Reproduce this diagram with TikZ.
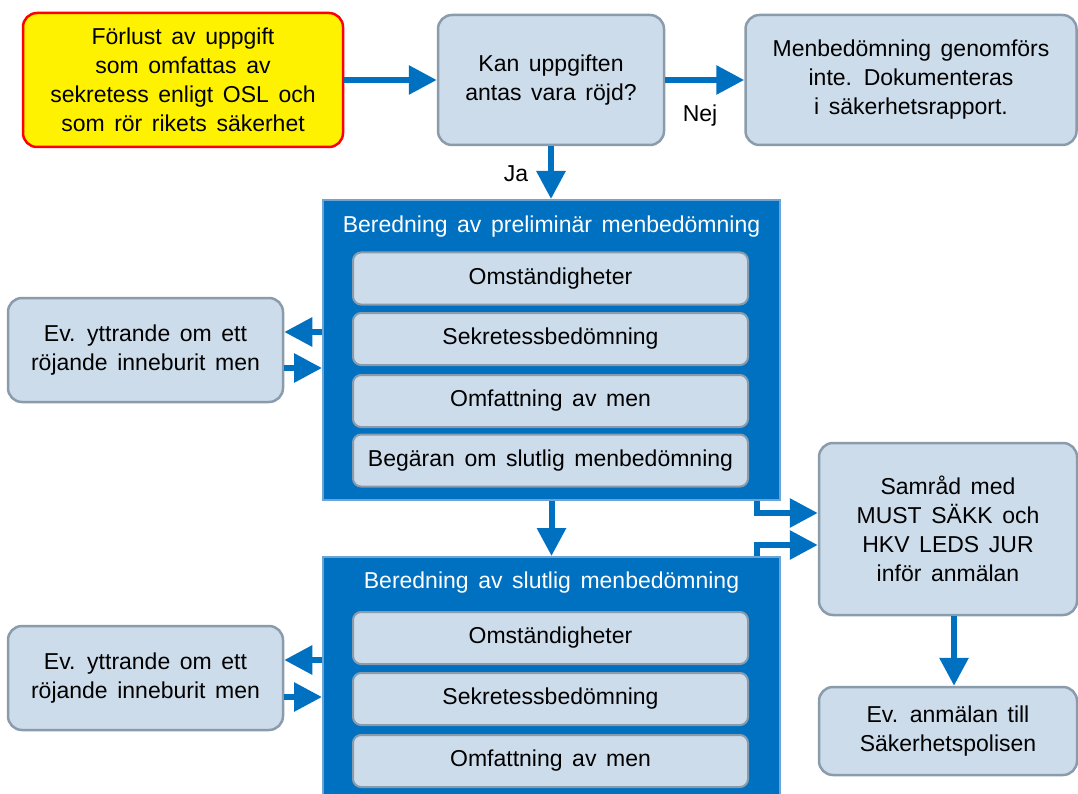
\documentclass[tikz,border=0pt]{standalone}
\usepackage{fontspec}
\setmainfont{Liberation Sans}[WordSpace=1.5]
\usetikzlibrary{arrows.meta,calc}
\definecolor{boxfill}{HTML}{CCDCEB}
\definecolor{boxline}{HTML}{8A9BAB}
\definecolor{flowblue}{HTML}{0070C0}
\definecolor{contline}{HTML}{6EA3D6}
\begin{document}
\begin{tikzpicture}[x=1pt,y=-1pt,
  txt/.style={font=\fontsize{23}{29}\selectfont, align=center, text=black},
  gbox/.style={txt, rounded corners=14pt, fill=boxfill, draw=boxline, line width=2.5pt, inner sep=0pt},
  ybox/.style={gbox, fill=yellow, draw=red},
  cont/.style={fill=flowblue, draw=contline, line width=2pt, inner sep=0pt, minimum width=457pt},
  ibox/.style={txt, rounded corners=8pt, fill=boxfill, draw=boxline, line width=2pt, minimum width=395pt, minimum height=52pt, inner sep=0pt},
  ctitle/.style={txt, text=white},
  arr/.style={draw=flowblue, line width=6pt, -{Triangle[length=28pt,width=28pt]}}]
\useasboundingbox (0,0) rectangle (1078,794);
\clip (0,0) rectangle (1078,794);

% top row
\node[ybox, minimum width=320pt, minimum height=134pt] (start) at (183,80) {Förlust av uppgift\\som omfattas av\\sekretess enligt OSL och\\som rör rikets säkerhet};
\node[gbox, minimum width=226pt, minimum height=130pt] (q) at (551,80) {Kan uppgiften\\antas vara röjd?};
\node[gbox, minimum width=331pt, minimum height=130pt] (no) at (911,80) {Menbedömning genomförs\\inte. Dokumenteras\\i säkerhetsrapport.};

% container 1
\node[cont, minimum height=300pt] (c1) at (551.5,350) {};
\node[ctitle] (t1) at (551.5,227) {Beredning av preliminär menbedömning};
\node[ibox] (c1a) at (550.5,278.5) {Omständigheter};
\node[ibox] (c1b) at (550.5,339) {Sekretessbedömning};
\node[ibox] (c1c) at (550.5,401) {Omfattning av men};
\node[ibox] (c1d) at (550.5,460.5) {Begäran om slutlig menbedömning};

% container 2
\node[cont, minimum height=260pt] (c2) at (551.5,687) {};
\node[ctitle] (t2) at (551.5,583) {Beredning av slutlig menbedömning};
\node[ibox] (c2a) at (550.5,638) {Omständigheter};
\node[ibox] (c2b) at (550.5,699) {Sekretessbedömning};
\node[ibox] (c2c) at (550.5,761) {Omfattning av men};

% left boxes
\node[gbox, minimum width=275pt, minimum height=104pt] (y1) at (145.5,350) {Ev. yttrande om ett\\röjande inneburit men};
\node[gbox, minimum width=275pt, minimum height=104pt] (y2) at (145.5,678) {Ev. yttrande om ett\\röjande inneburit men};

% right boxes
\node[gbox, minimum width=258pt, minimum height=172pt] (sam) at (948,529) {Samråd med\\MUST SÄKK och\\HKV LEDS JUR\\inför anmälan};
\node[gbox, minimum width=258pt, minimum height=88pt] (anm) at (948,731) {Ev. anmälan till\\Säkerhetspolisen};

% labels
\node[txt] (nej) at (700,116) {Nej};
\node[txt] (ja) at (516,174) {Ja};

% arrows
\draw[arr] (start) -- (q);
\draw[arr] (q) -- (no);
\draw[arr] (q.south) -- (q.south |- c1.north);
\draw[arr] (c1.south) -- (c1.south |- c2.north);

\coordinate (s1) at ([yshift=16pt]sam.west);
\coordinate (s2) at ([yshift=-16pt]sam.west);
\draw[arr] ([xshift=-24pt]c1.south east) |- (s1);
\draw[arr] ([xshift=-24pt]c2.north east) |- (s2);
\draw[arr] ([xshift=6pt]sam.south) -- ([xshift=6pt]anm.north);

\coordinate (y1a) at ([yshift=18pt]y1.east);
\coordinate (y1b) at ([yshift=-18pt]y1.east);
\draw[arr] (y1a -| c1.west) -- (y1a);
\draw[arr] (y1b) -- (y1b -| c1.west);

\coordinate (y2a) at ([yshift=18pt]y2.east);
\coordinate (y2b) at ([yshift=-19pt]y2.east);
\draw[arr] (y2a -| c2.west) -- (y2a);
\draw[arr] (y2b) -- (y2b -| c2.west);
\end{tikzpicture}
\end{document}
